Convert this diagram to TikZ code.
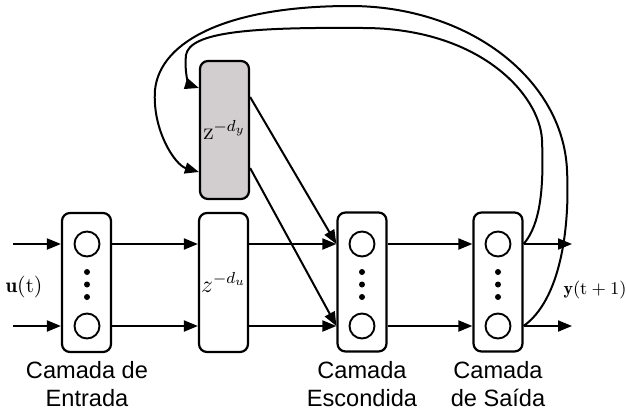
\documentclass[tikz,border=0pt]{standalone}
\usepackage{fontspec}
\newfontfamily\redefont{Liberation Sans}
\usetikzlibrary{arrows.meta,calc}

\tikzset{
  layer/.style={draw, line width=1.1pt, rounded corners=4pt,
    minimum width=24.5pt, minimum height=69.5pt, inner sep=0pt},
  neuron/.style={draw, circle, line width=0.95pt, minimum size=12.5pt, inner sep=0pt},
  conn/.style={line width=1pt, -{Triangle[length=7pt,width=5.5pt]}},
  rede/.style={font=\redefont\fontsize{11.8}{14}\selectfont, align=center}
}

\begin{document}
\begin{tikzpicture}[x=0.5pt,y=-0.5pt]
\useasboundingbox (0,0) rectangle (626,412);

% camadas
\node[layer] (inlayer) at (86.5,282.5) {};
\node[layer] (dulayer) at (223.5,282.5)
  {\fontsize{12}{13}\selectfont $z^{-d_u}$};
\node[layer, fill={rgb,255:red,210;green,206;blue,208}, minimum height=69pt]
  (dylayer) at (224.5,130) {\fontsize{12}{13}\selectfont $\mathrm{z}^{-d_y}$};
\node[layer] (hidlayer) at (362,282) {};
\node[layer] (outlayer) at (498,282) {};

% neuronios
\node[neuron] (in1) at (87,244) {};
\node[neuron] (in2) at (87,326) {};
\node[neuron] (hid1) at (362,244) {};
\node[neuron] (hid2) at (362,326) {};
\node[neuron] (out1) at (498,244) {};
\node[neuron] (out2) at (498,326) {};

% reticencias
\foreach \x in {87,362,498}
  \foreach \y in {272,284.5,297}
    \fill (\x,\y) circle (1.5pt);

% entradas e saidas
\coordinate (u1) at (13,244);
\coordinate (u2) at (13,326);
\coordinate (y1) at (572,244);
\coordinate (y2) at (572,326);
\node (ulabel) at (24,287) {\fontsize{10.5}{12}\selectfont $\mathbf{u}(\mathrm{t})$};
\node (ylabel) at (595,290) {\fontsize{9}{11}\selectfont $\mathbf{y}(\mathrm{t}+1)$};

\draw[conn] (u1) -- (u1 -| inlayer.west);
\draw[conn] (u2) -- (u2 -| inlayer.west);
\draw[conn] (in1 -| inlayer.east) -- (in1 -| dulayer.west);
\draw[conn] (in2 -| inlayer.east) -- (in2 -| dulayer.west);
\draw[conn] (hid1 -| dulayer.east) -- (hid1 -| hidlayer.west);
\draw[conn] (hid2 -| dulayer.east) -- (hid2 -| hidlayer.west);
\draw[conn] ($(dylayer.east)+(0,-33)$) -- (hid1 -| hidlayer.west);
\draw[conn] ($(dylayer.east)+(0,38)$) -- (hid2 -| hidlayer.west);
\draw[conn] (hid1 -| hidlayer.east) -- (out1 -| outlayer.west);
\draw[conn] (hid2 -| hidlayer.east) -- (out2 -| outlayer.west);
\draw[conn] (out1 -| outlayer.east) -- (y1);
\draw[conn] (out2 -| outlayer.east) -- (y2);

% realimentacao
\coordinate (fb1) at ($(dylayer.west)+(0,-42)$);
\coordinate (fb2) at ($(dylayer.west)+(0,42)$);
\draw[conn] (out1 -| outlayer.east) .. controls (540,225) and (544,190) .. (542,140)
  .. controls (540,95) and (480,28) .. (363,28)
  .. controls (250,27) and (190,32) .. (186,55)
  .. controls (184,75) and (190,85) .. (fb1);
\draw[conn] (out2 -| outlayer.east) .. controls (560,300) and (570,230) .. (567,170)
  .. controls (563,80) and (470,6) .. (350,6)
  .. controls (230,6) and (160,40) .. (155,90)
  .. controls (152,130) and (175,165) .. (fb2);

% rotulos
\node[rede] (inname) at (87,384) {Camada de\\Entrada};
\node[rede] (hidname) at (362,384) {Camada\\Escondida};
\node[rede] (outname) at (498,384) {Camada\\de Saída};
\end{tikzpicture}
\end{document}
